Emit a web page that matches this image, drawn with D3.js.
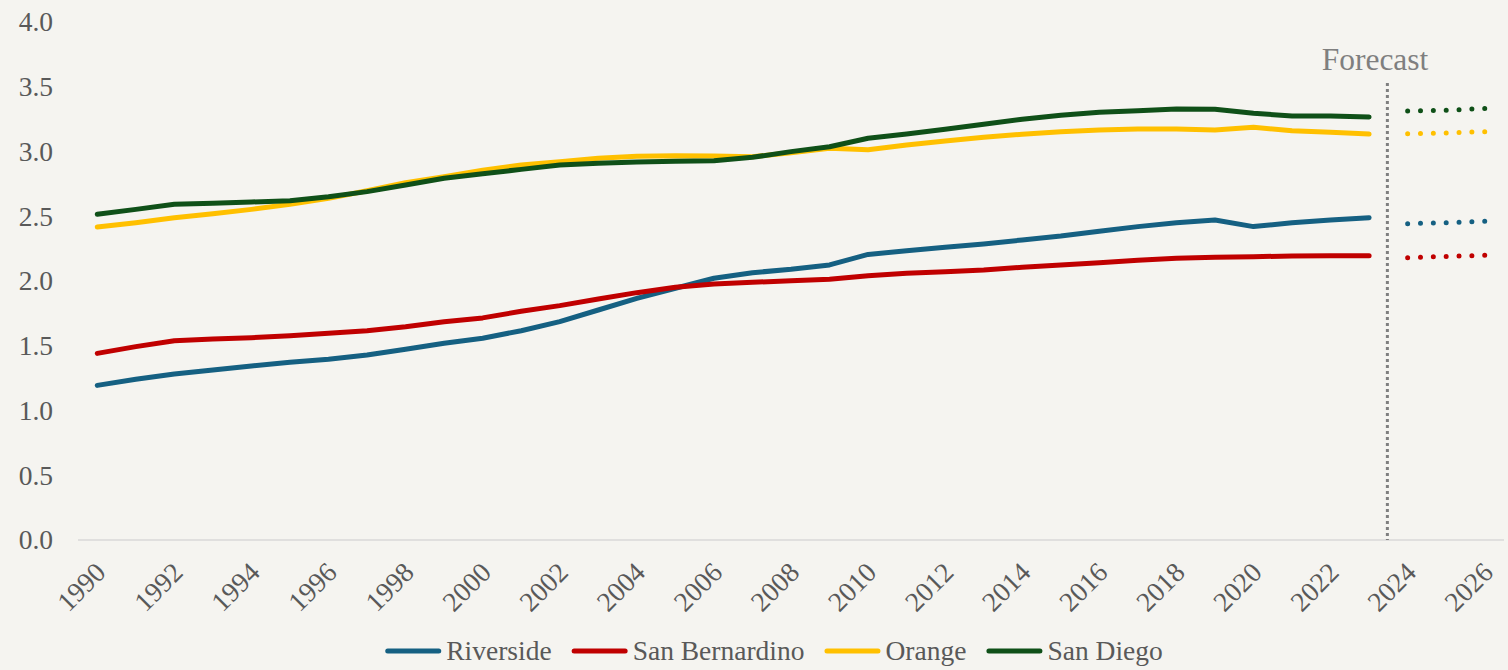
<!DOCTYPE html>
<html>
<head>
<meta charset="utf-8">
<script src="https://cdn.jsdelivr.net/npm/d3@7"></script>
<style>
  html, body { margin: 0; padding: 0; background: #f5f4f0; }
  svg { display: block; font-family: "Liberation Serif", "Times New Roman", serif; }
</style>
</head>
<body>
<div id="chart"></div>
<script>
'use strict';

let years = d3.range(1990, 2027);
let histYears = d3.range(1990, 2024);
let fcstYears = [2024, 2025, 2026];
let yTicks = [0, 0.5, 1.0, 1.5, 2.0, 2.5, 3.0, 3.5, 4.0];
let xTickYears = d3.range(1990, 2027, 2);

let riverside = [1.194, 1.241, 1.282, 1.313, 1.344, 1.372, 1.395, 1.429, 1.473, 1.519,
  1.558, 1.616, 1.686, 1.776, 1.866, 1.944, 2.021, 2.064, 2.090, 2.124,
  2.205, 2.234, 2.260, 2.286, 2.317, 2.347, 2.384, 2.420, 2.450, 2.471,
  2.420, 2.450, 2.471, 2.489];
let sanBernardino = [1.441, 1.493, 1.539, 1.552, 1.562, 1.578, 1.596, 1.616, 1.647, 1.686,
  1.715, 1.766, 1.810, 1.861, 1.910, 1.951, 1.977, 1.990, 2.002, 2.013,
  2.041, 2.059, 2.072, 2.085, 2.106, 2.124, 2.141, 2.160, 2.175, 2.183,
  2.188, 2.193, 2.195, 2.195];
let orange = [2.417, 2.450, 2.489, 2.520, 2.553, 2.592, 2.638, 2.697, 2.759, 2.806,
  2.855, 2.896, 2.921, 2.947, 2.963, 2.968, 2.965, 2.960, 2.990, 3.025,
  3.014, 3.050, 3.081, 3.110, 3.133, 3.153, 3.166, 3.174, 3.174, 3.166,
  3.187, 3.161, 3.148, 3.135];
let sanDiego = [2.515, 2.553, 2.592, 2.600, 2.610, 2.620, 2.651, 2.690, 2.741, 2.793,
  2.828, 2.862, 2.896, 2.909, 2.919, 2.924, 2.929, 2.955, 2.999, 3.037,
  3.102, 3.135, 3.171, 3.210, 3.249, 3.280, 3.303, 3.315, 3.328, 3.326,
  3.295, 3.274, 3.274, 3.266];

let riversideFcst = [2.443, 2.450, 2.461];
let sanBernardinoFcst = [2.180, 2.190, 2.198];
let orangeFcst = [3.137, 3.143, 3.153];
let sanDiegoFcst = [3.313, 3.318, 3.332];

let seriesNames = ['Riverside', 'San Bernardino', 'Orange', 'San Diego'];
let seriesColors = ['#156082', '#c00000', '#ffc000', '#0f5018'];

(function(){
  let W = 1508, H = 670;
  let margin = {top: 22, right: 4, bottom: 130, left: 78};
  let textColor = '#595959';
  let fontSize = 27.5;

  let svg = d3.select('#chart').append('svg')
    .attr('width', W)
    .attr('height', H);

  svg.append('rect')
    .attr('width', W).attr('height', H)
    .attr('fill', '#f5f4f0');

  let x = d3.scaleBand()
    .domain(years)
    .range([margin.left, W - margin.right]);

  let y = d3.scaleLinear()
    .domain([0, 4])
    .range([H - margin.bottom, margin.top]);

  function cx(yr){
    return x(yr) + x.bandwidth() / 2;
  }

  // y labels
  svg.append('g')
    .selectAll('text')
    .data(yTicks)
    .join('text')
    .attr('x', 53)
    .attr('y', function(d){ return y(d); })
    .attr('dy', '0.34em')
    .attr('text-anchor', 'end')
    .attr('font-size', fontSize)
    .attr('fill', textColor)
    .text(function(d){ return d3.format('.1f')(d); });

  // x baseline
  svg.append('line')
    .attr('x1', x.range()[0]).attr('x2', x.range()[1])
    .attr('y1', y(0)).attr('y2', y(0))
    .attr('stroke', '#d9d9d9')
    .attr('stroke-width', 1.5);

  // x labels, rotated
  svg.append('g')
    .selectAll('text')
    .data(xTickYears)
    .join('text')
    .attr('transform', function(d){
      return 'translate(' + (cx(d) + 10) + ',' + (y(0) + 34) + ') rotate(-45)';
    })
    .attr('text-anchor', 'end')
    .attr('font-size', fontSize)
    .attr('fill', textColor)
    .text(function(d){ return d; });

  // forecast divider
  let divX = x(2024) - 1;
  svg.append('line')
    .attr('x1', divX).attr('x2', divX)
    .attr('y1', 83).attr('y2', y(0))
    .attr('stroke', '#7f7f7f')
    .attr('stroke-width', 3)
    .attr('stroke-dasharray', '3,3');

  svg.append('text')
    .attr('x', 1375)
    .attr('y', 70)
    .attr('text-anchor', 'middle')
    .attr('font-size', 31.5)
    .attr('fill', '#7f7f7f')
    .text('Forecast');

  let hist = [riverside, sanBernardino, orange, sanDiego];
  let fcst = [riversideFcst, sanBernardinoFcst, orangeFcst, sanDiegoFcst];

  let line = d3.line()
    .x(function(d){ return cx(d.year); })
    .y(function(d){ return y(d.value); });

  hist.forEach(function(vals, i){
    let pts = histYears.map(function(yr, j){ return {year: yr, value: vals[j]}; });
    svg.append('path')
      .datum(pts)
      .attr('d', line)
      .attr('fill', 'none')
      .attr('stroke', seriesColors[i])
      .attr('stroke-width', 5)
      .attr('stroke-linejoin', 'round')
      .attr('stroke-linecap', 'round');
  });

  fcst.forEach(function(vals, i){
    let pts = fcstYears.map(function(yr, j){ return {year: yr, value: vals[j]}; });
    let p = svg.append('path')
      .datum(pts)
      .attr('d', line)
      .attr('fill', 'none')
      .attr('stroke', seriesColors[i])
      .attr('stroke-width', 5)
      .attr('stroke-linecap', 'round');
    let len = p.node().getTotalLength();
    p.attr('stroke-dasharray', '0,' + (len / 6 - 0.001));
  });

  // legend
  let legend = svg.append('g');
  let swatch = 56, gapText = 5, gapItem = 20;
  let items = seriesNames.map(function(name, i){
    let g = legend.append('g');
    g.append('line')
      .attr('x1', 2.5).attr('x2', swatch - 2.5)
      .attr('y1', 0).attr('y2', 0)
      .attr('stroke', seriesColors[i])
      .attr('stroke-width', 5)
      .attr('stroke-linecap', 'round');
    let t = g.append('text')
      .attr('x', swatch + gapText)
      .attr('dy', '0.34em')
      .attr('font-size', fontSize)
      .attr('fill', textColor)
      .text(name);
    return {g: g, w: swatch + gapText + t.node().getComputedTextLength()};
  });
  let total = d3.sum(items, function(d){ return d.w; }) + gapItem * (items.length - 1);
  let pos = 774 - total / 2;
  items.forEach(function(it){
    it.g.attr('transform', 'translate(' + pos + ',651)');
    pos += it.w + gapItem;
  });
})();
</script>
</body>
</html>
